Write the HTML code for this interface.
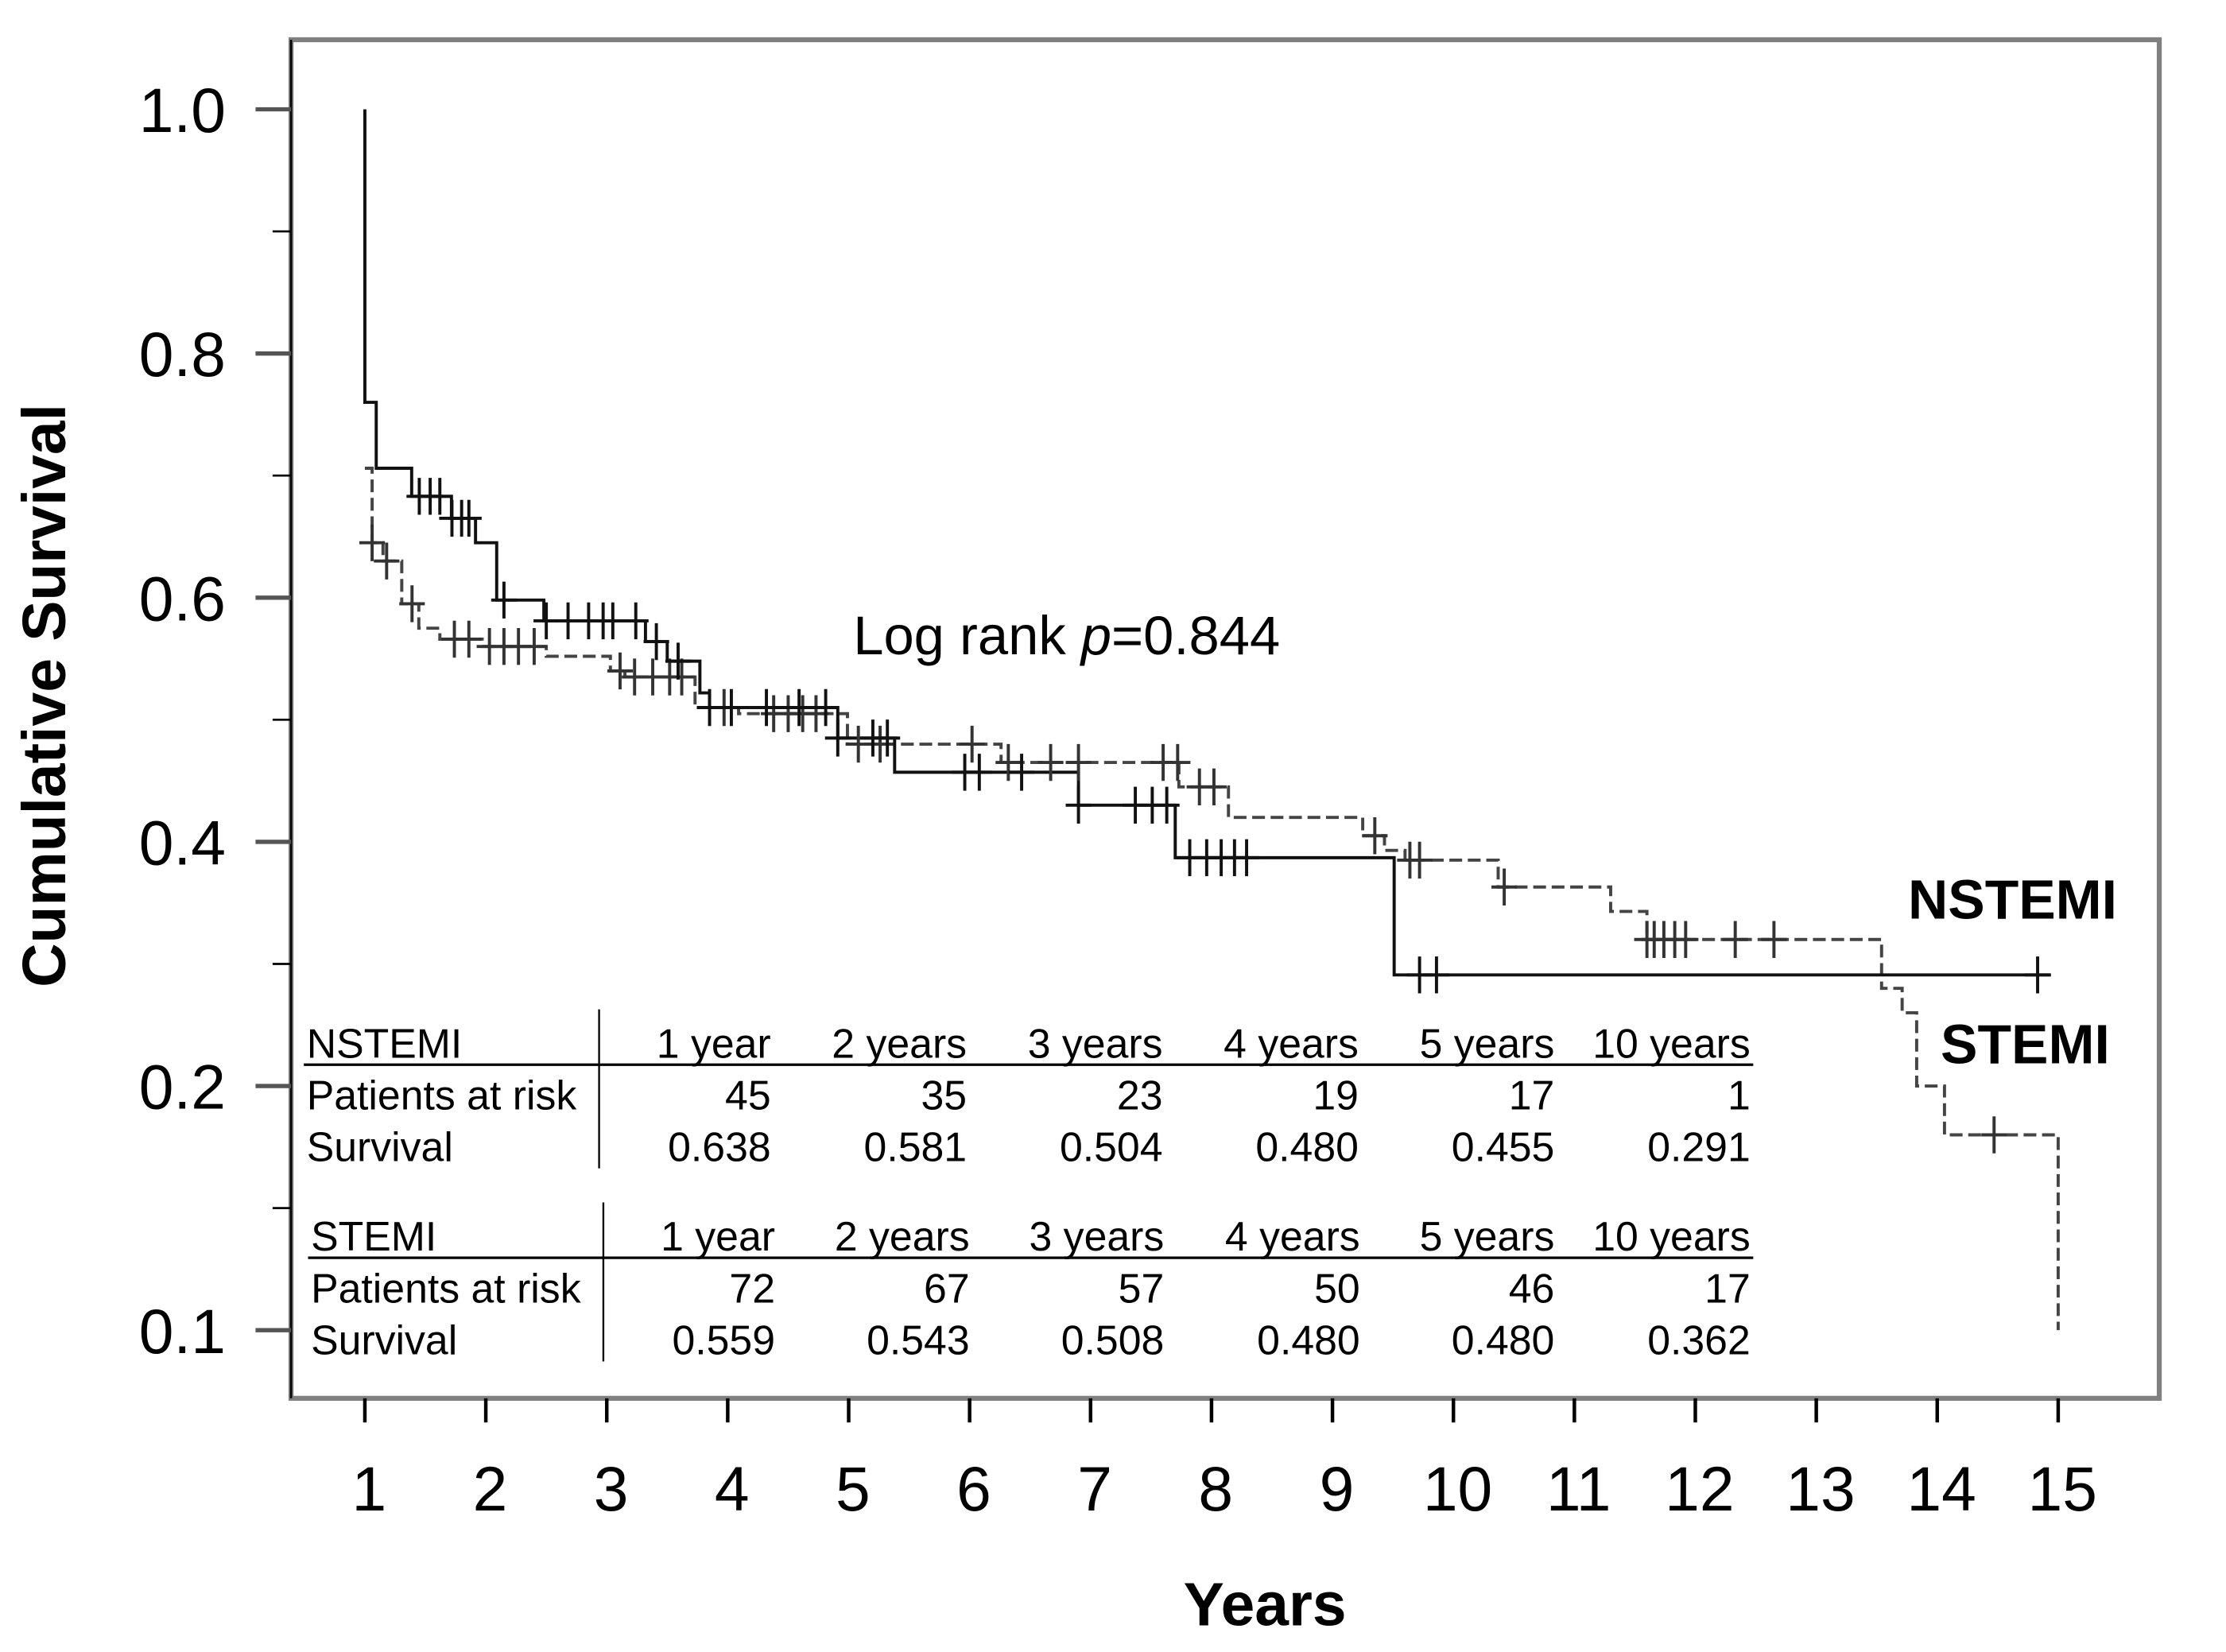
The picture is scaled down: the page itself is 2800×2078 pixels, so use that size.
<!DOCTYPE html>
<html><head><meta charset="utf-8"><style>
html,body{margin:0;padding:0;background:#fff;}
svg{display:block;}
text{font-family:"Liberation Sans Narrow","Liberation Sans",sans-serif;fill:#000;}
.b{font-family:"Liberation Sans",sans-serif;font-weight:bold;}
</style></head><body>
<svg id="chart" width="2800" height="2078" viewBox="0 0 1568 1163.7" xmlns="http://www.w3.org/2000/svg">
<rect x="205" y="28" width="1316" height="957" fill="none" stroke="#808080" stroke-width="3.5"/>
<line x1="205" y1="28" x2="205" y2="985" stroke="#000" stroke-width="1.5"/>
<g id="yaxis"></g>
<g id="xaxis"></g>
<text class="b" font-size="43" text-anchor="middle" transform="translate(46,490) rotate(-90)">Cumulative Survival</text>
<text class="b" font-size="43" x="891" y="1145" text-anchor="middle">Years</text>
<text font-size="38.5" x="601" y="461" font-family="Liberation Sans,sans-serif">Log rank <tspan font-style="italic">p</tspan>=0.844</text>
<text class="b" font-size="39" x="1344" y="647">NSTEMI</text>
<text class="b" font-size="39" x="1367" y="749">STEMI</text>
<g id="curves"></g>
<g id="tables"></g>
</svg>
<script>
const yTickValues=[1.0,0.8,0.6,0.4,0.2,0.1];
const yTickLabels=["1.0","0.8","0.6","0.4","0.2","0.1"];
const xTickLabels=["1","2","3","4","5","6","7","8","9","10","11","12","13","14","15"];
const solidT=[1.0,1.0,1.094,1.387,1.716,1.915,2.09,2.48,3.32,3.50,3.77,3.85,4.91,5.38,6.90,7.70,9.51];
const solidV=[1.0,0.76,0.706,0.683,0.665,0.645,0.598,0.581,0.564,0.548,0.522,0.510,0.485,0.457,0.43,0.387,0.291];
const solidEnd=14.94;
const dashT=[1.0,1.06,1.15,1.305,1.446,1.62,1.97,2.50,3.03,3.15,3.73,4.09,4.99,6.26,7.73,8.14,9.25,9.43,9.60,10.37,11.30,11.60,13.54,13.71,13.83,14.06];
const dashV=[0.706,0.645,0.63,0.595,0.575,0.566,0.56,0.552,0.54,0.535,0.51,0.505,0.48,0.465,0.445,0.42,0.405,0.393,0.385,0.363,0.343,0.32,0.28,0.26,0.20,0.18];
const dashEnd=15.0, dashEndV=0.10;
const solidCens=[1.45,1.54,1.62,1.72,1.80,1.86,2.15,2.50,2.68,2.85,2.97,3.05,3.24,3.41,3.59,3.85,4.03,4.32,4.59,4.81,4.91,5.20,5.32,5.96,6.08,6.43,6.90,7.37,7.51,7.63,7.82,7.96,8.08,8.19,8.29,9.72,9.86,14.83];
const dashCens=[1.06,1.18,1.39,1.74,1.86,2.03,2.15,2.27,2.40,3.11,3.23,3.38,3.52,3.62,3.97,4.38,4.50,4.62,4.73,5.08,5.26,6.02,6.32,6.67,6.90,7.60,7.72,7.90,8.02,9.35,9.64,9.72,10.42,11.60,11.66,11.74,11.83,11.92,12.33,12.65,14.47];
const tblCols=["1 year","2 years","3 years","4 years","5 years","10 years"];
const nstemiRisk=["45","35","23","19","17","1"];
const nstemiSurv=["0.638","0.581","0.504","0.480","0.455","0.291"];
const stemiRisk=["72","67","57","50","46","17"];
const stemiSurv=["0.559","0.543","0.508","0.480","0.480","0.362"];

const NS="http://www.w3.org/2000/svg";
function X(t){return 257+(t-1)*85.2;}
function Y(v){return v>=0.2?77+860*(1-v):765+(0.2-v)*1720;}
function mk(tag,attrs,parent){const e=document.createElementNS(NS,tag);for(const k in attrs)e.setAttribute(k,attrs[k]);parent.appendChild(e);return e;}
const ya=document.getElementById('yaxis'),xa=document.getElementById('xaxis'),cv=document.getElementById('curves'),tb=document.getElementById('tables');
yTickValues.forEach((v,i)=>{
 const y=Y(v);
 const t=mk('line',{x1:180,x2:205,y1:y,y2:y,stroke:'#555','stroke-width':3},ya);
 
 
 const tx=mk('text',{x:159,y:y+16,'font-size':44,'text-anchor':'end','font-family':'Liberation Sans,sans-serif'},ya);
 tx.textContent=yTickLabels[i];
 
 
 if(i<5){const m=mk('line',{x1:192,x2:205,y1:y+86,y2:y+86,stroke:'#000','stroke-width':1.5},ya);
 
 }
});
xTickLabels.forEach((l,i)=>{
 const x=X(i+1);
 const t=mk('line',{x1:x,x2:x,y1:985,y2:1002,stroke:'#000','stroke-width':2.5},xa);
 
 
 const tx=mk('text',{x:x+3,y:1064,'font-size':44,'text-anchor':'middle','font-family':'Liberation Sans,sans-serif'},xa);
 tx.textContent=l;
 
 
});
function stepPath(T,V,endT,endV){
 let d='M'+X(T[0])+','+Y(V[0]);
 for(let i=1;i<T.length;i++){d+=' H'+X(T[i])+' V'+Y(V[i]);}
 d+=' H'+X(endT);
 if(endV!==undefined)d+=' V'+Y(endV);
 return d;
}
function valAt(T,V,t){let v=V[0];for(let i=0;i<T.length;i++)if(T[i]<=t)v=V[i];return v;}
const pd=mk('path',{d:stepPath(dashT,dashV,dashEnd,dashEndV),fill:'none',stroke:'#444','stroke-width':2.2,'stroke-dasharray':'9 4'},cv);


const ps=mk('path',{d:stepPath(solidT,solidV,solidEnd),fill:'none',stroke:'#111','stroke-width':2.2},cv);


function cens(arr,T,V,col,name){arr.forEach(t=>{const x=X(t),y=Y(valAt(T,V,t));
 const g=mk('path',{d:`M${x-9},${y} H${x+9} M${x},${y-13} V${y+13}`,stroke:col,'stroke-width':2.2,fill:'none'},cv);
 
 });}
cens(dashCens,dashT,dashV,'#333','stemi-censor-mark');
cens(solidCens,solidT,solidV,'#111','nstemi-censor-mark');
function table(title,risk,surv,top,vx,left,colR,name){
 const g=mk('g',{},tb);
 
 
 mk('line',{x1:vx,x2:vx,y1:top-24,y2:top+88,stroke:'#000','stroke-width':1.3},g);
 mk('line',{x1:left-2,x2:1235,y1:top+15,y2:top+15,stroke:'#000','stroke-width':1.8},g);
 const rows=[[title].concat(tblCols),["Patients at risk"].concat(risk),["Survival"].concat(surv)];
 rows.forEach((r,ri)=>{const y=top+10+ri*36.5;
  r.forEach((c,ci)=>{const tx=mk('text',{x:ci===0?left:colR[ci-1],y:y,'font-size':29,'text-anchor':ci===0?'start':'end'},g);tx.textContent=c;});});
}
table("NSTEMI",nstemiRisk,nstemiSurv,735,422,216,[543,681,819,957,1095,1233],'nstemi-table');
table("STEMI",stemiRisk,stemiSurv,871,425,219,[546,683,820,958,1095,1233],'stemi-table');
</script>
</body></html>
